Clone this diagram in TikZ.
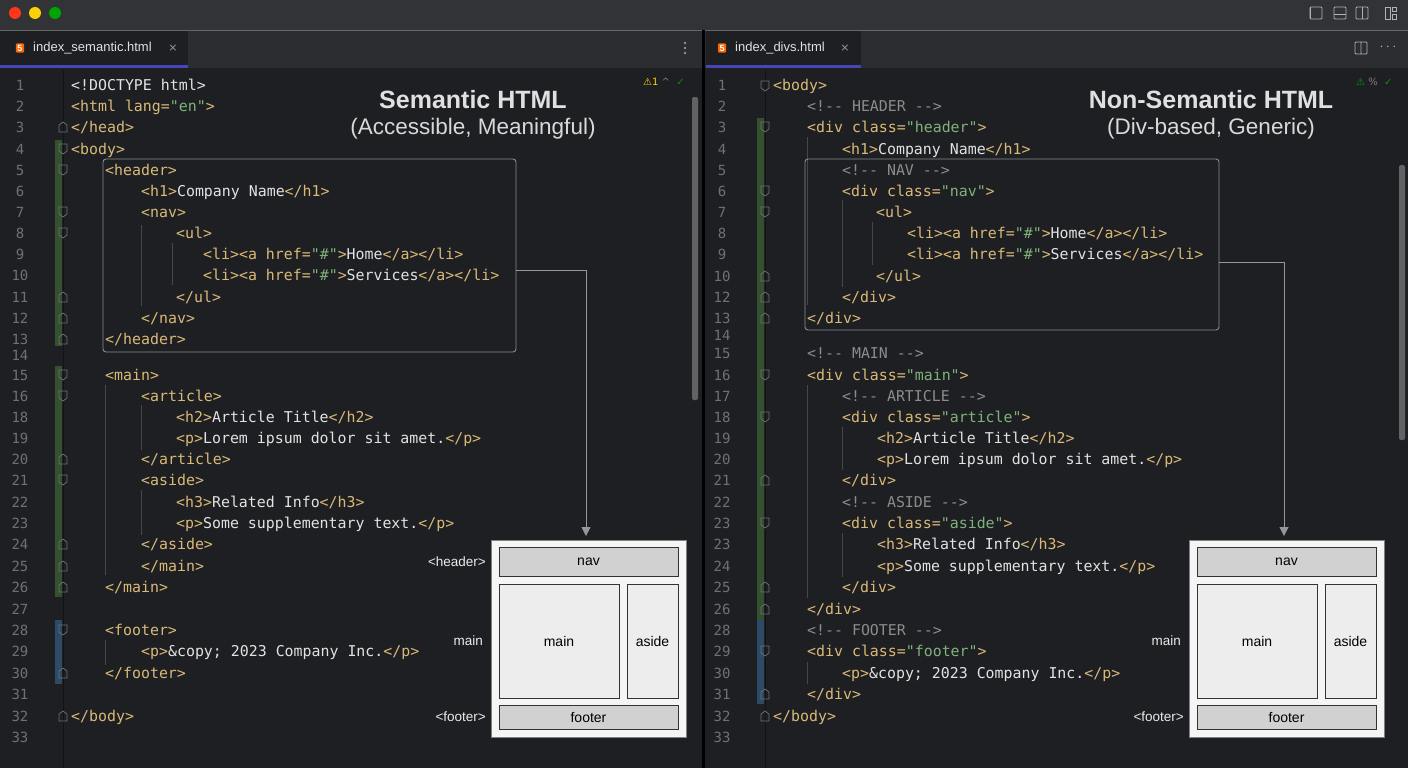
\documentclass[tikz,border=0pt]{standalone}
\usepackage{fontspec}
\setmainfont{Liberation Sans}
\newfontfamily\codef{DejaVu Sans Mono}
\newfontfamily\symf{DejaVu Sans}
\usetikzlibrary{arrows.meta}
\definecolor{bg}{HTML}{1E1F22}
\definecolor{titlebar}{HTML}{323336}
\definecolor{tabbar}{HTML}{2B2D30}
\definecolor{tagc}{HTML}{D9B978}
\definecolor{strc}{HTML}{7FB27A}
\definecolor{txtc}{HTML}{E2E2E2}
\definecolor{comc}{HTML}{8C8C8C}
\definecolor{numc}{HTML}{6E7177}
\definecolor{chg}{HTML}{34502F}
\definecolor{chb}{HTML}{2D4A66}
\definecolor{boxc}{HTML}{8A8C90}
\newcommand{\Tg}[1]{\textcolor{tagc}{#1}}
\newcommand{\St}[1]{\textcolor{strc}{#1}}
\newcommand{\Pl}[1]{\textcolor{txtc}{#1}}
\newcommand{\Cm}[1]{\textcolor{comc}{#1}}
\begin{document}
\begin{tikzpicture}[x=1pt,y=-1pt,
  code/.style={anchor=base west,inner sep=0pt,font=\codef\fontsize{14.9}{16}\selectfont},
  num/.style={anchor=base,inner sep=0pt,text=numc,font=\codef\fontsize{14}{16}\selectfont},
  ttl/.style={inner sep=0pt,text=white!88!black,font=\bfseries\fontsize{25}{28}\selectfont},
  sub/.style={inner sep=0pt,text=white!85!black,font=\fontsize{22.5}{26}\selectfont},
  hl/.style={draw=boxc,line width=0.9pt,rounded corners=3pt},
  conn/.style={draw=boxc!90!white,line width=0.9pt,-{Triangle[length=9pt,width=9pt]}},
  lay/.style={draw=black!80,line width=0.8pt,fill=#1,font=\fontsize{14}{16}\selectfont,text=black,inner sep=0pt},
  lbl/.style={anchor=east,inner sep=0pt,text=white!92!black,font=\fontsize{13.5}{16}\selectfont}]
\useasboundingbox (0,0) rectangle (1408,768);
\fill[bg] (0,0) rectangle (1408,768);
\fill[titlebar] (0,0) rectangle (1408,30);
\fill[tabbar] (0,30) rectangle (1408,68);
\draw[black!60] (0,30) -- (1408,30);
\fill[bg] (0,31) rectangle (188,67);
\fill[bg] (706,31) rectangle (861,67);
\fill[blue!45!gray] (0,65) rectangle (188,68);
\fill[blue!45!gray] (706,65) rectangle (861,68);
\fill[black] (702,30) rectangle (705,768);
% traffic lights
\fill[red!75!orange!90!white] (15,13) circle (6);
\fill[yellow!70!orange] (35,13) circle (6);
\fill[green!65!black] (55,13) circle (6);
% top right icons
\foreach \xx in {1316,1340,1362}{\draw[white!70!black,line width=0.9pt,rounded corners=1pt] (\xx-6,7) rectangle (\xx+6,19);}
\draw[white!70!black,line width=0.9pt] (1310,7)--(1310,19) (1334,14)--(1346,14) (1362,7)--(1362,19);
\draw[white!70!black,line width=0.9pt] (1385,7) rectangle (1390,19) (1392,7) rectangle (1396,11) (1392,14) rectangle (1396,19);
% tabs
\node[fill=orange!80!red,rounded corners=1pt,inner sep=1.5pt,text=white,font=\bfseries\fontsize{9}{9}\selectfont] (ic1) at (20,48) {5};
\node[anchor=west,inner sep=0pt,text=white!88!black,font=\fontsize{13}{15}\selectfont] (tab1) at (33,48) {index\_semantic.html};
\node[inner sep=0pt,text=white!60!black,font=\symf\fontsize{11}{12}\selectfont] (x1) at (173,48) {×};
\node[fill=orange!80!red,rounded corners=1pt,inner sep=1.5pt,text=white,font=\bfseries\fontsize{9}{9}\selectfont] (ic2) at (722,48) {5};
\node[anchor=west,inner sep=0pt,text=white!88!black,font=\fontsize{13}{15}\selectfont] (tab2) at (735,48) {index\_divs.html};
\node[inner sep=0pt,text=white!60!black,font=\symf\fontsize{11}{12}\selectfont] (x2) at (845,48) {×};
\foreach \yy in {43,48,53}{\fill[white!70!black] (685,\yy) circle (1.2);}
\draw[white!70!black,line width=0.9pt,rounded corners=1pt] (1355,42) rectangle (1367,54) (1361,42)--(1361,54);
\node[inner sep=0pt,text=white!70!black,font=\fontsize{14}{14}\selectfont] (dots2) at (1388,47) {$\cdots$};
% status icons
\node[anchor=west,inner sep=0pt,font=\symf\fontsize{10}{12}\selectfont] (st1) at (643,82) {\textcolor{yellow!70!orange}{⚠1} \textcolor{gray}{\^{}} \ \textcolor{green!60!black}{✓}};
\node[anchor=west,inner sep=0pt,font=\symf\fontsize{10}{12}\selectfont] (st2) at (1356,82) {\textcolor{green!60!black}{⚠} \textcolor{gray}{\%} \ \textcolor{green!60!black}{✓}};
% scrollbars
\fill[white!30!bg,rounded corners=2pt] (692,97) rectangle (698,400);
\fill[white!30!bg,rounded corners=2pt] (1399,165) rectangle (1405,440);
% gutter lines
\draw[black!40!bg] (63,70) -- (63,768);
\draw[black!40!bg] (765,70) -- (765,768);
\fill[chg] (55,140) rectangle (62,346);
\fill[chg] (55,366) rectangle (62,597);
\fill[chb] (55,620) rectangle (62,684);
\fill[chg] (757,118) rectangle (764,620);
\fill[chb] (757,620) rectangle (764,704);
% indent guides
\draw[white!18!bg] (141,225)--(141,306) (172,243)--(172,285) (105,385)--(105,575) (141,405)--(141,450) (141,490)--(141,535) (105,640)--(105,665);
\draw[white!18!bg] (842,200)--(842,287) (872,222)--(872,265) (807,137)--(807,305) (807,385)--(807,598) (842,427)--(842,470) (842,533)--(842,577) (807,662)--(807,684);
% fold markers
\foreach \yy in {149,170,212,233,375,396,480,630}{\draw[numc,line width=0.7pt] (59,\yy-5)--(67,\yy-5)--(67,\yy+2)--(63,\yy+5)--(59,\yy+2)--cycle;}
\foreach \yy in {127,297,318,339,459,544,566,587,673,716}{\draw[numc,line width=0.7pt] (59,\yy+5)--(67,\yy+5)--(67,\yy-2)--(63,\yy-5)--(59,\yy-2)--cycle;}
\foreach \yy in {86,127,191,212,375,417,523,651}{\draw[numc,line width=0.7pt] (761,\yy-5)--(769,\yy-5)--(769,\yy+2)--(765,\yy+5)--(761,\yy+2)--cycle;}
\foreach \yy in {276,297,318,480,587,609,694,716}{\draw[numc,line width=0.7pt] (761,\yy+5)--(769,\yy+5)--(769,\yy-2)--(765,\yy-5)--(761,\yy-2)--cycle;}
% line numbers
\foreach \n/\yy [count=\i] in {1/86,2/106,3/127,4/149,5/170,6/191,7/212,8/233,9/254,10/275,11/297,12/318,13/339,14/355,15/375,16/396,18/417,19/438,20/459,21/480,22/502,23/523,24/544,25/566,26/587,27/609,28/630,29/651,30/673,31/694,32/716,33/737}
  {\node[num] (ln\i) at (20,\yy+5) {\n};}
\foreach \n/\yy [count=\i] in {1/86,2/106,3/127,4/149,5/170,6/191,7/212,8/233,9/254,10/276,12/297,13/318,14/335,15/353,16/375,17/396,18/417,19/438,20/459,21/480,22/502,23/523,23/544,24/566,25/587,26/609,28/630,29/651,30/673,31/694,32/716,33/737}
  {\node[num] (rn\i) at (722,\yy+5) {\n};}
% left code
\node[code] (l1) at (71,91) {\Pl{<!DOCTYPE html>}};
\node[code] (l2) at (71,111) {\Tg{<html lang=}\St{"en"}\Tg{>}};
\node[code] (l3) at (71,132) {\Tg{</head>}};
\node[code] (l4) at (71,154) {\Tg{<body>}};
\node[code] (l5) at (105,175) {\Tg{<header>}};
\node[code] (l6) at (141,196) {\Tg{<h1>}\Pl{Company Name}\Tg{</h1>}};
\node[code] (l7) at (141,217) {\Tg{<nav>}};
\node[code] (l8) at (176,238) {\Tg{<ul>}};
\node[code] (l9) at (203,259) {\Tg{<li><a href=}\St{"\#"}\Tg{>}\Pl{Home}\Tg{</a></li>}};
\node[code] (l10) at (203,280) {\Tg{<li><a href=}\St{"\#"}\Tg{>}\Pl{Services}\Tg{</a></li>}};
\node[code] (l11) at (176,302) {\Tg{</ul>}};
\node[code] (l12) at (141,323) {\Tg{</nav>}};
\node[code] (l13) at (105,344) {\Tg{</header>}};
\node[code] (l15) at (105,380) {\Tg{<main>}};
\node[code] (l16) at (141,401) {\Tg{<article>}};
\node[code] (l17) at (176,422) {\Tg{<h2>}\Pl{Article Title}\Tg{</h2>}};
\node[code] (l18) at (176,443) {\Tg{<p>}\Pl{Lorem ipsum dolor sit amet.}\Tg{</p>}};
\node[code] (l19) at (141,464) {\Tg{</article>}};
\node[code] (l20) at (141,485) {\Tg{<aside>}};
\node[code] (l21) at (176,507) {\Tg{<h3>}\Pl{Related Info}\Tg{</h3>}};
\node[code] (l22) at (176,528) {\Tg{<p>}\Pl{Some supplementary text.}\Tg{</p>}};
\node[code] (l23) at (141,549) {\Tg{</aside>}};
\node[code] (l24) at (141,571) {\Tg{</main>}};
\node[code] (l25) at (105,592) {\Tg{</main>}};
\node[code] (l26) at (105,635) {\Tg{<footer>}};
\node[code] (l27) at (141,656) {\Tg{<p>}\Pl{\&copy; 2023 Company Inc.}\Tg{</p>}};
\node[code] (l28) at (105,678) {\Tg{</footer>}};
\node[code] (l29) at (71,721) {\Tg{</body>}};
% right code
\node[code] (r1) at (773,91) {\Tg{<body>}};
\node[code] (r2) at (807,111) {\Cm{<!{-}{-} HEADER {-}{-}>}};
\node[code] (r3) at (807,132) {\Tg{<div class=}\St{"header"}\Tg{>}};
\node[code] (r4) at (842,154) {\Tg{<h1>}\Pl{Company Name}\Tg{</h1>}};
\node[code] (r5) at (842,175) {\Cm{<!{-}{-} NAV {-}{-}>}};
\node[code] (r6) at (842,196) {\Tg{<div class=}\St{"nav"}\Tg{>}};
\node[code] (r7) at (876,217) {\Tg{<ul>}};
\node[code] (r8) at (907,238) {\Tg{<li><a href=}\St{"\#"}\Tg{>}\Pl{Home}\Tg{</a></li>}};
\node[code] (r9) at (907,259) {\Tg{<li><a href=}\St{"\#"}\Tg{>}\Pl{Services}\Tg{</a></li>}};
\node[code] (r10) at (876,281) {\Tg{</ul>}};
\node[code] (r11) at (842,302) {\Tg{</div>}};
\node[code] (r12) at (807,323) {\Tg{</div>}};
\node[code] (r13) at (807,358) {\Cm{<!{-}{-} MAIN {-}{-}>}};
\node[code] (r14) at (807,380) {\Tg{<div class=}\St{"main"}\Tg{>}};
\node[code] (r15) at (842,401) {\Cm{<!{-}{-} ARTICLE {-}{-}>}};
\node[code] (r16) at (842,422) {\Tg{<div class=}\St{"article"}\Tg{>}};
\node[code] (r17) at (877,443) {\Tg{<h2>}\Pl{Article Title}\Tg{</h2>}};
\node[code] (r18) at (877,464) {\Tg{<p>}\Pl{Lorem ipsum dolor sit amet.}\Tg{</p>}};
\node[code] (r19) at (842,485) {\Tg{</div>}};
\node[code] (r20) at (842,507) {\Cm{<!{-}{-} ASIDE {-}{-}>}};
\node[code] (r21) at (842,528) {\Tg{<div class=}\St{"aside"}\Tg{>}};
\node[code] (r22) at (877,549) {\Tg{<h3>}\Pl{Related Info}\Tg{</h3>}};
\node[code] (r23) at (877,571) {\Tg{<p>}\Pl{Some supplementary text.}\Tg{</p>}};
\node[code] (r24) at (842,592) {\Tg{</div>}};
\node[code] (r25) at (807,614) {\Tg{</div>}};
\node[code] (r26) at (807,635) {\Cm{<!{-}{-} FOOTER {-}{-}>}};
\node[code] (r27) at (807,656) {\Tg{<div class=}\St{"footer"}\Tg{>}};
\node[code] (r28) at (842,678) {\Tg{<p>}\Pl{\&copy; 2023 Company Inc.}\Tg{</p>}};
\node[code] (r29) at (807,699) {\Tg{</div>}};
\node[code] (r30) at (773,721) {\Tg{</body>}};
% titles
\node[ttl] (t1) at (473,100) {Semantic HTML};
\node[sub] (s1) at (473,129) {(Accessible, Meaningful)};
\node[ttl] (t2) at (1211,100) {Non-Semantic HTML};
\node[sub] (s2) at (1211,129) {(Div-based, Generic)};
% highlight boxes
\node[hl,minimum width=413pt,minimum height=193pt,inner sep=0pt] (hb1) at (309.5,255.5) {};
\node[hl,minimum width=414pt,minimum height=171pt,inner sep=0pt] (hb2) at (1012,244.5) {};
% layout previews
\foreach \p/\dx in {L/0,R/698}{
  \node[draw=black!50,fill=white!96!black,minimum width=195pt,minimum height=197pt,inner sep=0pt] (\p out) at (588.5+\dx,638.5) {};
  \node[lay=black!18!white,minimum width=179pt,minimum height=29pt] (\p nav) at (588.5+\dx,561.5) {nav};
  \node[lay=black!7!white,minimum width=120pt,minimum height=114pt] (\p main) at (559+\dx,641) {main};
  \node[lay=black!7!white,minimum width=51pt,minimum height=114pt] (\p aside) at (652.5+\dx,641) {aside};
  \node[lay=black!18!white,minimum width=179pt,minimum height=24pt] (\p foot) at (588.5+\dx,717) {footer};
  \coordinate (\p top) at (586+\dx,536);
}
\node[lbl] (lh) at (486,562) {<header>};
\node[lbl] (lm) at (483,641) {main};
\node[lbl] (lf) at (486,717) {<footer>};
\node[lbl] (rm) at (1181,641) {main};
\node[lbl] (rf) at (1184,717) {<footer>};
% connectors
\draw[conn] (hb1.east |- 0,270) -| (Ltop);
\draw[conn] (hb2.east |- 0,262) -| (Rtop);
\end{tikzpicture}
\end{document}
